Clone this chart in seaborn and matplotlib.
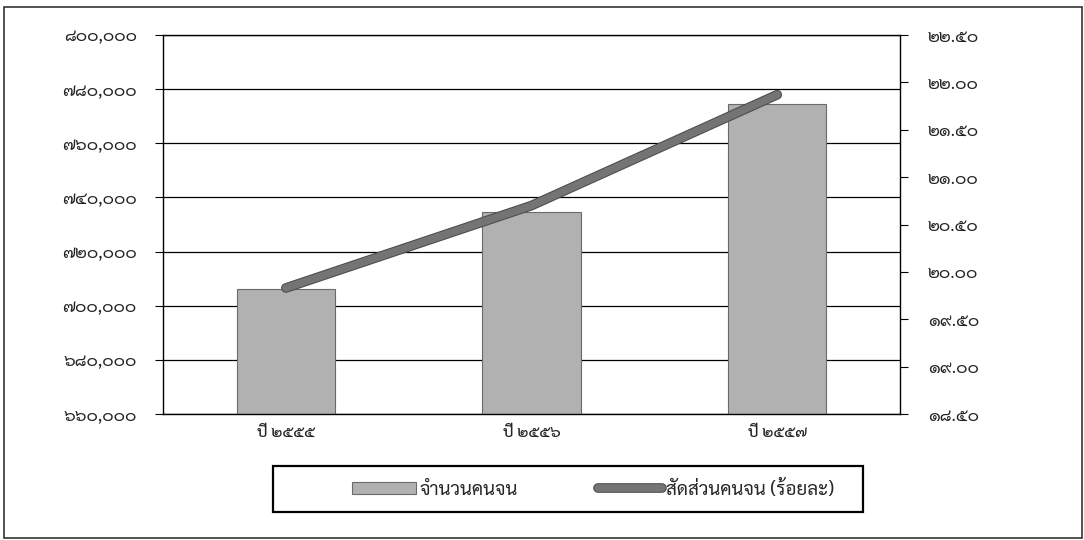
import os
import matplotlib
matplotlib.use("Agg")
import matplotlib.pyplot as plt
import matplotlib.font_manager as fm
import matplotlib.ticker as mticker
import matplotlib.patheffects as pe
from matplotlib.patches import Rectangle, Patch
from matplotlib.lines import Line2D
import seaborn as sns

# Thai font (google-fonts folder is on the box)
for f in ["Sarabun-Regular.ttf", "Sarabun-Bold.ttf"]:
    p = "/usr/share/fonts/truetype/google-fonts/" + f
    if os.path.exists(p):
        fm.fontManager.addfont(p)

# ── data ────────────────────────────────────────────────
years = ["ปี ๒๕๕๕", "ปี ๒๕๕๖", "ปี ๒๕๕๗"]
poor_count = [706000, 734600, 774500]       # จำนวนคนจน
poor_ratio = [19.83, 20.70, 21.87]          # สัดส่วนคนจน (ร้อยละ)
legend_labels = ["จำนวนคนจน", "สัดส่วนคนจน (ร้อยละ)"]

sns.set_style("white")
plt.rcParams['font.family'] = ['Sarabun', 'DejaVu Sans']

THAI_DIGITS = str.maketrans("0123456789", "๐๑๒๓๔๕๖๗๘๙")

def thai_fmt(fmt):
    return mticker.FuncFormatter(lambda v, _: format(v, fmt).translate(THAI_DIGITS))

bar_col = '#b1b1b1'
line_col = '#747474'
line_fx = [pe.Stroke(linewidth=7, foreground='#4c4c4c'), pe.Normal()]

fig = plt.figure(figsize=(10.84, 5.4), dpi=100)
ax = fig.add_axes([0.1504, 0.2333, 0.6799, 0.7019])

sns.barplot(x=years, y=poor_count, ax=ax, color=bar_col, saturation=1,
            width=0.4, edgecolor='#6a6a6a', linewidth=0.8, zorder=2)
ax.set_xlim(-0.5, len(years) - 0.5)
ax.set_ylim(660000, 800000)
ax.yaxis.set_major_locator(mticker.MultipleLocator(20000))
ax.yaxis.set_major_formatter(thai_fmt(',.0f'))
ax.grid(axis='y', color='black', linewidth=0.9, zorder=0)
ax.set_axisbelow(True)
ax.set_xlabel('')
ax.set_ylabel('')

# category boundary ticks
ax.xaxis.set_minor_locator(mticker.FixedLocator([i - 0.5 for i in range(len(years) + 1)]))
ax.tick_params(axis='x', which='major', length=0, pad=8, labelsize=11.5)
ax.tick_params(axis='x', which='minor', direction='out', length=5, width=0.8, color='black')
ax.tick_params(axis='y', direction='out', length=6, width=0.8, color='black',
               pad=13, labelsize=12.5, left=True, labelcolor='#222222')
for lab in ax.get_xticklabels():
    lab.set_fontweight('medium')

for s in ['left', 'bottom', 'top']:
    ax.spines[s].set_color('black')
    ax.spines[s].set_linewidth(1.0)
ax.spines['right'].set_visible(False)

# ratio line on the right axis
ax2 = ax.twinx()
sns.lineplot(x=list(range(len(years))), y=poor_ratio, ax=ax2, color=line_col,
             linewidth=5.5, solid_capstyle='round', zorder=5, path_effects=line_fx)
ax2.set_ylim(18.5, 22.5)
ax2.yaxis.set_major_locator(mticker.MultipleLocator(0.5))
ax2.yaxis.set_major_formatter(thai_fmt('.2f'))
ax2.tick_params(axis='y', direction='out', length=6, width=0.8, color='black',
                pad=14, labelsize=12.5, right=True, labelcolor='#222222')
ax2.set_ylabel('')
for s in ['left', 'bottom', 'top']:
    ax2.spines[s].set_visible(False)
ax2.spines['right'].set_color('black')
ax2.spines['right'].set_linewidth(1.0)

# legend
handles = [Patch(facecolor=bar_col, edgecolor='#6a6a6a', linewidth=0.8),
           Line2D([], [], color=line_col, linewidth=5.5, solid_capstyle='round',
                  path_effects=line_fx)]
fig.legend(handles, legend_labels, loc='center', bbox_to_anchor=(0.547, 0.0944),
           ncol=2, frameon=False, fontsize=13.5, handlelength=3.4, handleheight=0.55,
           handletextpad=0.2, columnspacing=4.3)
fig.patches.append(Rectangle((0.2518, 0.0519), 0.5443, 0.0851, transform=fig.transFigure,
                             fill=False, edgecolor='black', linewidth=1.6))

# outer frame
fig.patches.append(Rectangle((0.004, 0.004), 0.994, 0.983, transform=fig.transFigure,
                             fill=False, edgecolor='#333333', linewidth=1.2))

fig.savefig("out.png", dpi=100)
